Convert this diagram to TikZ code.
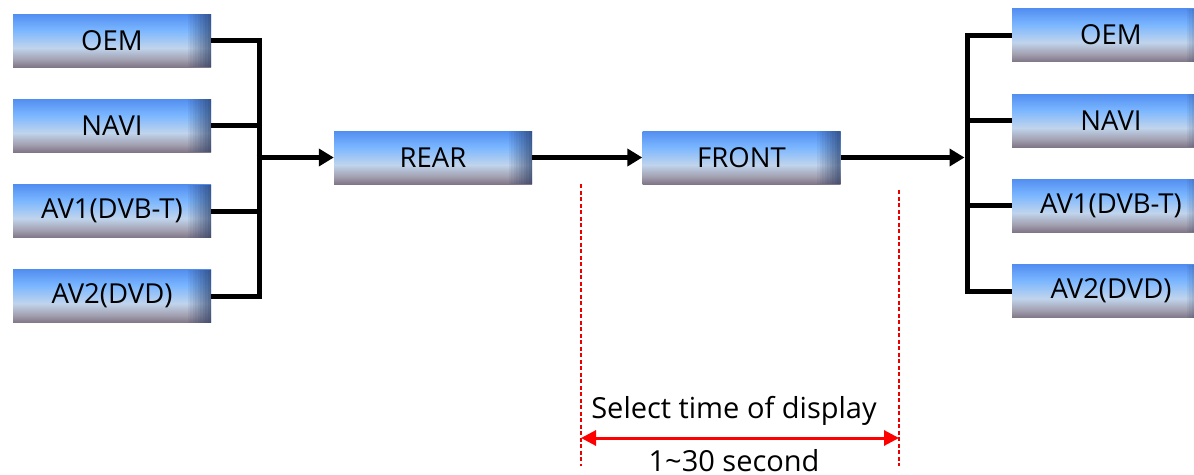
\documentclass[tikz,border=0pt]{standalone}
\usepackage{fontspec}
\setmainfont{Open Sans}
\usetikzlibrary{arrows.meta}
\definecolor{ctop}{RGB}{82,142,240}
\definecolor{cmid}{RGB}{122,182,255}
\definecolor{clight}{RGB}{192,212,236}
\definecolor{cgray}{RGB}{162,160,176}
\definecolor{cbot}{RGB}{128,118,136}
\definecolor{cedge}{RGB}{40,60,100}
\definecolor{cred}{RGB}{235,0,0}
\pgfdeclareverticalshading{boxsh}{100bp}{color(0bp)=(cbot); color(25bp)=(cbot); color(32bp)=(cgray); color(43bp)=(clight); color(60bp)=(cmid); color(75bp)=(ctop); color(100bp)=(ctop)}
\tikzset{
  box/.style={rectangle, minimum width=198pt, minimum height=53pt, inner sep=0pt,
    shading=boxsh, font=\fontsize{27.5}{32}\selectfont,
    path picture={
      \foreach \i in {1,...,10}{
        \fill[cedge, opacity=0.07*\i]
          ([xshift=-26pt+2.5*\i pt]path picture bounding box.south east) rectangle
          ([xshift=-23.5pt+2.5*\i pt]path picture bounding box.north east);
      }
    }},
  conn/.style={line width=5pt, black},
  arr/.style={conn, -{Triangle[length=15pt,width=17pt]}},
  guide/.style={cred, line width=1.3pt, dash pattern=on 4pt off 2.5pt},
  span/.style={red, line width=3pt, {Triangle[length=15pt,width=15pt]}-{Triangle[length=15pt,width=15pt]}},
  lbl/.style={font=\fontsize{29}{34}\selectfont, anchor=base}
}
\begin{document}
\begin{tikzpicture}[x=1pt,y=-1pt]
\useasboundingbox (0,0) rectangle (1194,474);
% left sources
\node[box] (l1) at (112,40.5) {OEM};
\node[box] (l2) at (112,125.5) {NAVI};
\node[box] (l3) at (112,211) {AV1(DVB-T)};
\node[box] (l4) at (112,296) {AV2(DVD)};
% middle
\node[box] (rear) at (433,157.5) {REAR};
\node[box] (front) at (741.5,157.5) {FRONT};
% right outputs
\node[box] (r1) at (1111,35) {OEM};
\node[box] (r2) at (1111,120.5) {NAVI};
\node[box] (r3) at (1111,205.5) {AV1(DVB-T)};
\node[box] (r4) at (1111,291) {AV2(DVD)};
% junctions
\coordinate (lj) at (259,157.5);
\coordinate (rj) at (967,157.5);
% left bus
\draw[conn] (l1.east) -| (lj);
\draw[conn] (l4.east) -| (lj);
\draw[conn] (l2.east) -- (l2.east -| lj);
\draw[conn] (l3.east) -- (l3.east -| lj);
\draw[arr] ([xshift=-2.5pt]lj) -- (rear.west);
\draw[arr] (rear.east) -- (front.west);
\draw[arr] (front.east) -- ([xshift=-2.5pt]rj);
% right bus
\draw[conn] (r1.west) -| (rj);
\draw[conn] (r4.west) -| (rj);
\draw[conn] (r2.west) -- (r2.west -| rj);
\draw[conn] (r3.west) -- (r3.west -| rj);
% timing guides
\coordinate (ga) at (581,184);
\coordinate (gb) at (581,466);
\coordinate (gc) at (899,190);
\coordinate (gd) at (899,466);
\draw[guide] (ga) -- (gb);
\draw[guide] (gc) -- (gd);
\coordinate (sa) at (581,438);
\coordinate (sb) at (899,438);
\draw[span] (sa) -- (sb);
\node[lbl] (t1) at (734,418) {Select time of display};
\node[lbl] (t2) at (734,471) {1\textasciitilde 30 second};
\end{tikzpicture}
\end{document}
